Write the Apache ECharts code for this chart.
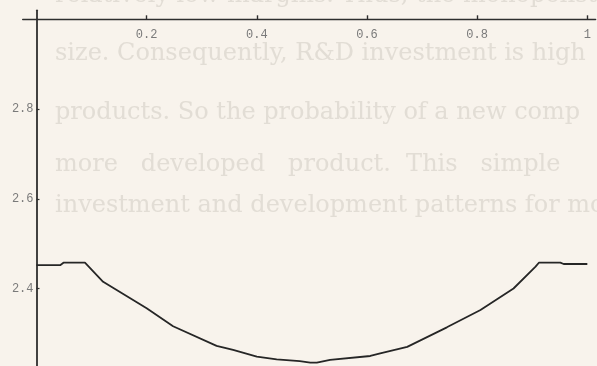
<!DOCTYPE html>
<html>
<head>
<meta charset="utf-8">
<script src="https://cdn.jsdelivr.net/npm/echarts@6/dist/echarts.min.js"></script>
<style>
  html, body { margin: 0; padding: 0; background: #f8f3ec; }
  #chart { width: 597px; height: 366px; }
</style>
</head>
<body>
<div id="chart"></div>
<script>
// Curve samples: x position and plotted value
const xValues = [0, 0.043, 0.049, 0.088, 0.121, 0.200, 0.248, 0.327, 0.357, 0.400, 0.436, 0.478, 0.497,
                 0.509, 0.533, 0.606, 0.624, 0.673, 0.745, 0.806, 0.866, 0.906, 0.912, 0.951, 0.957, 1.0];
const yValues = [2.452, 2.452, 2.4575, 2.4575, 2.415, 2.356, 2.316, 2.272, 2.263, 2.248, 2.242, 2.238, 2.235,
                 2.235, 2.241, 2.2496, 2.2556, 2.270, 2.3135, 2.352, 2.400, 2.4486, 2.4575, 2.4575, 2.4546, 2.4546];

// Tick labels on both axes
const xTickValues = [0.2, 0.4, 0.6, 0.8, 1];
const yTickValues = [2.4, 2.6, 2.8];

// Page text behind the plot (one entry per printed line)
const pageLines = [
  'relatively low margins. Thus, the monopolist',
  'size. Consequently, R&D investment is high',
  'products. So the probability of a new comp',
  'more   developed   product.  This   simple',
  'investment and development patterns for mo'
];
const pageBaselines = [4, 62, 121, 173, 214];

const points = xValues.map((x, i) => [x, yValues[i]]);

const chart = echarts.init(document.getElementById('chart'), null, { renderer: 'canvas' });

const axisColor = '#2e2e2e';
const labelStyle = { fontFamily: 'Liberation Mono', fontSize: 12, color: '#7a7a7a' };

chart.setOption({
  animation: false,
  backgroundColor: '#f8f3ec',
  graphic: pageLines.map((t, i) => ({
    type: 'text',
    z: -10,
    silent: true,
    x: 55,
    y: pageBaselines[i] - 8,
    style: {
      text: t,
      font: '24px "DejaVu Serif"',
      fill: '#e2ddd5',
      verticalAlign: 'middle',
      align: 'left'
    }
  })),
  grid: { left: 22.7, right: 1.4, top: 10.3, bottom: -12.25, outerBoundsMode: 'none' },
  xAxis: {
    type: 'value',
    position: 'top',
    offset: -9,
    min: -0.025,
    max: 1.015,
    axisLine: { onZero: false, lineStyle: { color: axisColor, width: 1.4 } },
    axisTick: { customValues: xTickValues, length: 4, lineStyle: { color: axisColor, width: 1.4 } },
    axisLabel: Object.assign({ customValues: xTickValues, inside: true, margin: 10 }, labelStyle),
    splitLine: { show: false }
  },
  yAxis: {
    type: 'value',
    min: 2.2,
    max: 3.02,
    axisLine: { onZero: true, lineStyle: { color: axisColor, width: 1.8 } },
    axisTick: { customValues: yTickValues, inside: true, length: 3, lineStyle: { color: axisColor, width: 1.2 } },
    // labels stay at the grid edge while the line sits on x = 0, so pull them right
    axisLabel: Object.assign({ customValues: yTickValues, margin: -10.8 }, labelStyle),
    splitLine: { show: false }
  },
  series: [{
    type: 'line',
    data: points,
    showSymbol: false,
    lineStyle: { color: '#262626', width: 1.8 }
  }]
});
</script>
</body>
</html>
